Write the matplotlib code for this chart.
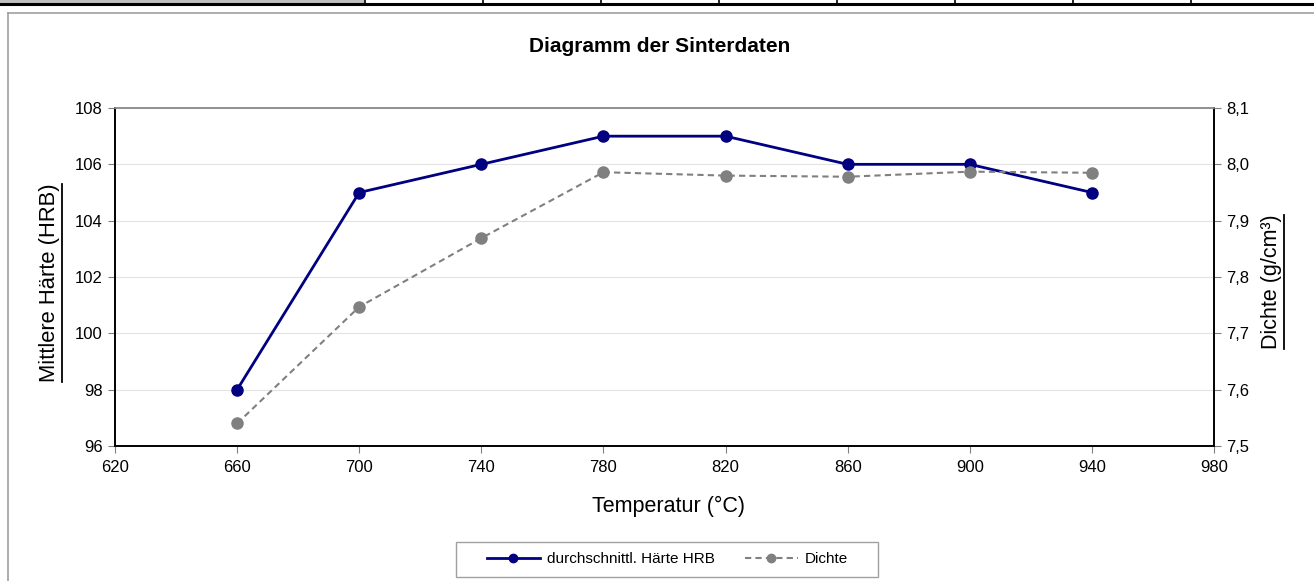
import matplotlib
matplotlib.use("Agg")
import matplotlib.pyplot as plt
from matplotlib.lines import Line2D
from matplotlib.patches import Rectangle

plt.rcParams['font.family'] = ['Liberation Sans', 'DejaVu Sans']

temperatur = [660, 700, 740, 780, 820, 860, 900, 940]
haerte = [98, 105, 106, 107, 107, 106, 106, 105]
dichte = [7.540, 7.747, 7.869, 7.986, 7.980, 7.978, 7.987, 7.985]
x_ticks = [620, 660, 700, 740, 780, 820, 860, 900, 940, 980]
y_left_ticks = [96, 98, 100, 102, 104, 106, 108]
y_right_ticks = [7.5, 7.6, 7.7, 7.8, 7.9, 8.0, 8.1]
y_right_labels = ["7,5", "7,6", "7,7", "7,8", "7,9", "8,0", "8,1"]

W, H = 1314, 581
fig = plt.figure(figsize=(W / 100, H / 100), dpi=100)

def fx(px):
    return px / W

def fy(py):
    return 1 - py / H

# spreadsheet strip at top
fig.patches.append(Rectangle((0, fy(4)), fx(365), 4 / H, transform=fig.transFigure,
                             facecolor='#c0c0c0', edgecolor='none'))
fig.lines.append(Line2D([0, 1], [fy(4), fy(4)], transform=fig.transFigure, color='black', lw=2.2))
for vx in [365, 483, 601, 719, 837, 955, 1073, 1191]:
    fig.lines.append(Line2D([fx(vx), fx(vx)], [fy(0), fy(4)], transform=fig.transFigure,
                            color='black', lw=1.2))
# chart area frame
fig.lines.append(Line2D([fx(7.5), 1], [fy(12.5), fy(12.5)], transform=fig.transFigure, color='#a0a0a0', lw=1.2))
fig.lines.append(Line2D([fx(7.5), fx(7.5)], [fy(12.5), 0], transform=fig.transFigure, color='#a0a0a0', lw=1.2))

ax = fig.add_axes([fx(115), fy(446), fx(1214) - fx(115), fy(108) - fy(446)])
ax2 = ax.twinx()

ax.plot(temperatur, haerte, color='#000080', lw=2, marker='o', markersize=8,
        label='durchschnittl. Härte HRB', zorder=3)
ax2.plot(temperatur, dichte, color='#808080', lw=1.5, ls=(0, (3, 2)), marker='o', markersize=8,
         label='Dichte', zorder=3)

ax.set_xlim(620, 980)
ax.set_ylim(96, 108)
ax2.set_ylim(7.5, 8.1)
ax.set_xticks(x_ticks)
ax.set_yticks(y_left_ticks)
ax2.set_yticks(y_right_ticks)
ax2.set_yticklabels(y_right_labels)
ax.yaxis.grid(True, color='#e3e3e3', lw=0.8)
ax.set_axisbelow(True)

for a in (ax, ax2):
    a.tick_params(axis='both', direction='out', length=5, color='#808080', labelsize=12, pad=4)
    for s in a.spines.values():
        s.set_color('black')
        s.set_linewidth(1.2)
    a.spines['top'].set_color('#909090')
ax.tick_params(axis='x', pad=5)

fig.text(fx(660), fy(47), 'Diagramm der Sinterdaten', ha='center', va='center',
         fontsize=15, fontweight='bold')
fig.text(fx(669), fy(506), 'Temperatur (°C)', ha='center', va='center', fontsize=15.5)
yl = fig.text(fx(50), fy(283), 'Mittlere Härte (HRB)', ha='center', va='center', fontsize=15.8, rotation=90)
yr = fig.text(fx(1272), fy(282), 'Dichte (g/cm³)', ha='center', va='center', fontsize=15.5, rotation=90)

# legend frame
fig.patches.append(Rectangle((fx(455.5), fy(576.5)), fx(877.5) - fx(455.5), 35 / H,
                             transform=fig.transFigure, facecolor='white', edgecolor='#a0a0a0', lw=1))
h1, l1 = ax.get_legend_handles_labels()
h2, l2 = ax2.get_legend_handles_labels()
leg = fig.legend(h1 + h2, l1 + l2, loc='center left', bbox_to_anchor=(fx(487), fy(559)), ncol=2,
                 fontsize=11, frameon=False, borderpad=0, borderaxespad=0,
                 handlelength=3.45, columnspacing=2.0, handletextpad=0.45,
                 markerscale=0.75)

# underline rotated labels
fig.canvas.draw()
r = fig.canvas.get_renderer()
for t in (yl, yr):
    bb = t.get_window_extent(r)
    ux = bb.x1 + 1
    fig.lines.append(Line2D([ux / W, ux / W], [bb.y0 / H, bb.y1 / H], transform=fig.transFigure,
                            color='black', lw=1.3))

fig.savefig('out.png', dpi=100)
